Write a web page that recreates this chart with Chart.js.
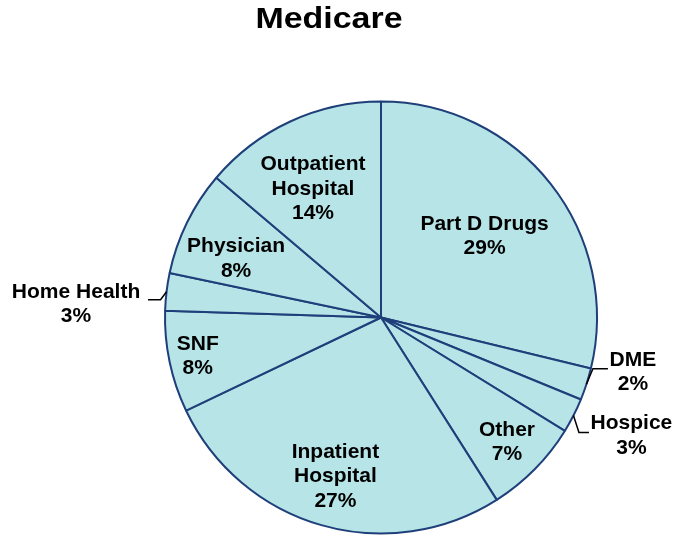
<!DOCTYPE html>
<html lang="en">
<head>
<meta charset="UTF-8">
<title>Medicare</title>
<script src="https://cdn.jsdelivr.net/npm/chart.js"></script>
<style>
  body { margin: 0; background: #fff; }
  canvas { display: block; }
</style>
</head>
<body>
<canvas id="grafico" width="676" height="535"></canvas>
<script>
const titulo = 'Medicare';
const categorias = ['Part D Drugs', 'DME', 'Hospice', 'Other', 'Inpatient Hospital', 'SNF', 'Home Health', 'Physician', 'Outpatient Hospital'];
const valores = [28.8, 2.4, 2.6, 7.2, 26.9, 7.6, 2.8, 7.9, 13.8];
const percentuais = ['29%', '2%', '3%', '7%', '27%', '8%', '3%', '8%', '14%'];

// where each label goes: r = fraction of radius (inside), or leader line (outside)
const posRotulo = [
  { r: 0.61 },
  { fora: true, dx: 6.5, dy: -15.5, len: 15, tx: 25, ty: -9 },
  { fora: true, dx: 5.5, dy: 17, len: 10, tx: 42.5, ty: -9 },
  { r: 0.82 },
  { r: 0.765 },
  { r: 0.867 },
  { fora: true, dx: -6, dy: 8, len: -12.5, tx: -72, ty: -8 },
  { r: 0.724, da: -4 },
  { r: 0.674, da: -3 }
];

const fonte = 'bold 21px "Liberation Sans", Arial, sans-serif';
const alturaLinha = 24.5;

function escreveBloco(ctx, linhas, x, y) {
  const y0 = y - (linhas.length - 1) * alturaLinha / 2;
  linhas.forEach((l, i) => ctx.fillText(l, x, y0 + i * alturaLinha));
}

const rotulosPlugin = {
  id: 'rotulos',
  afterDatasetsDraw(chart) {
    const ctx = chart.ctx;
    const arcs = chart.getDatasetMeta(0).data;
    ctx.save();
    ctx.font = fonte;
    ctx.fillStyle = '#000';
    ctx.textAlign = 'center';
    ctx.textBaseline = 'middle';
    ctx.strokeStyle = '#000';
    ctx.lineWidth = 1.5;
    arcs.forEach((arc, i) => {
      const p = arc.getProps(['x', 'y', 'startAngle', 'endAngle', 'outerRadius'], true);
      const cfg = posRotulo[i];
      let meio = (p.startAngle + p.endAngle) / 2;
      const nome = categorias[i];
      if (cfg.fora) {
        const ex = p.x + Math.cos(meio) * p.outerRadius;
        const ey = p.y + Math.sin(meio) * p.outerRadius;
        const cx = ex + cfg.dx, cy = ey + cfg.dy;
        const fx = cx + cfg.len;
        ctx.beginPath();
        ctx.moveTo(ex, ey);
        ctx.lineTo(cx, cy);
        ctx.lineTo(fx, cy);
        ctx.stroke();
        escreveBloco(ctx, [nome, percentuais[i]], fx + cfg.tx, cy + cfg.ty + alturaLinha / 2);
      } else {
        meio += (cfg.da || 0) * Math.PI / 180;
        const r = p.outerRadius * cfg.r;
        const linhas = nome.replace(' Hospital', '\nHospital').split('\n');
        linhas.push(percentuais[i]);
        escreveBloco(ctx, linhas, p.x + Math.cos(meio) * r, p.y + Math.sin(meio) * r);
      }
    });
    ctx.restore();
  },
  afterDraw(chart) {
    const ctx = chart.ctx;
    ctx.save();
    ctx.font = 'bold 29px "Liberation Sans", Arial, sans-serif';
    ctx.fillStyle = '#000';
    ctx.textAlign = 'center';
    ctx.textBaseline = 'middle';
    ctx.translate(329, 20);
    ctx.scale(1.17, 1);
    ctx.fillText(titulo, 0, 0);
    ctx.restore();
  }
};

const ctx = document.getElementById('grafico');

new Chart(ctx, {
  type: 'pie',
  data: {
    labels: categorias,
    datasets: [{
      data: valores,
      backgroundColor: '#B6E4E7',
      borderColor: '#1F3F7A',
      borderWidth: 2
    }]
  },
  options: {
    responsive: false,
    animation: false,
    radius: 216,
    layout: { padding: { top: 102, bottom: 2, left: 165, right: 79 } },
    plugins: {
      legend: { display: false },
      tooltip: { enabled: false },
      title: { display: false }
    }
  },
  plugins: [rotulosPlugin]
});
</script>
</body>
</html>
